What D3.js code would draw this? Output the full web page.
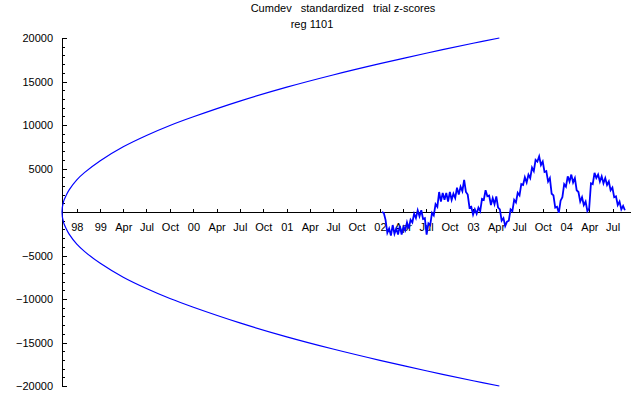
<!DOCTYPE html>
<html>
<head>
<meta charset="utf-8">
<script src="https://cdn.jsdelivr.net/npm/d3@7"></script>
<style>
  html, body { margin: 0; padding: 0; background: #fff; }
  svg { display: block; font-family: "Liberation Sans", Arial, sans-serif; }
  .title { font-size: 11px; }
  .axis text { font-size: 11px; fill: #000; }
  .axis path, .axis line { stroke: #000; shape-rendering: crispEdges; }
</style>
</head>
<body>
<div id="chart"></div>
<script>
// chart text
const titleLine1 = 'Cumdev\u00a0\u00a0 standardized\u00a0\u00a0 trial z-scores';
const titleLine2 = 'reg 1101';

// x axis: quarterly ticks and their labels
const xTickDates = ['1998-10-01',
  '1999-01-01', '1999-04-01', '1999-07-01', '1999-10-01',
  '2000-01-01', '2000-04-01', '2000-07-01', '2000-10-01',
  '2001-01-01', '2001-04-01', '2001-07-01', '2001-10-01',
  '2002-01-01', '2002-04-01', '2002-07-01', '2002-10-01',
  '2003-01-01', '2003-04-01', '2003-07-01', '2003-10-01',
  '2004-01-01', '2004-04-01', '2004-07-01'];
const xTickLabels = ['98',
  '99', 'Apr', 'Jul', 'Oct',
  '00', 'Apr', 'Jul', 'Oct',
  '01', 'Apr', 'Jul', 'Oct',
  '02', 'Apr', 'Jul', 'Oct',
  '03', 'Apr', 'Jul', 'Oct',
  '04', 'Apr', 'Jul'];
const xDomain = ['1998-08-04', '2004-09-07'];

// y axis
const yDomain = [-20000, 20000];
const yMajorTicks = [-20000, -15000, -10000, -5000, 0, 5000, 10000, 15000, 20000];
const yMinorStep = 1000;

// probability envelope (upper half; lower half is its mirror)
const envelopeDates = ['1998-08-04', '1998-08-10', '1998-08-20', '1998-09-01', '1998-10-01',
  '1998-11-01', '1999-01-01', '1999-04-01', '1999-07-01', '1999-10-01', '2000-01-01',
  '2000-07-01', '2001-01-01', '2001-07-01', '2002-01-01', '2002-07-01', '2003-01-01', '2003-04-14'];
const envelopeValues = [0, 1200, 1900, 2550, 3700,
  4550, 5900, 7500, 8800, 9950, 10950,
  12750, 14350, 15750, 17050, 18250, 19400, 20000];

// cumulative deviation, one reading per week from 2002-01-09
const cumdevStart = '2002-01-09';
const cumdevStepDays = 7;
const cumdevValues = [
  0, -100, -900, -2400, -1900, -2700, -1500, -2500, -1900, -2600,
  -1600, -2600, -1700, -2100, -1200, -1900, -900, -1200, -200, -700,
  200, -500, 200, -800, -700, -2600, -1300, -1500, -100, -400,
  900, 600, 2300, 1200, 2200, 1400, 2200, 1200, 2300, 1400,
  2100, 1600, 2800, 2000, 2900, 2400, 3700, 2300, 2000, 500,
  600, -300, 300, -200, 500, 100, 1500, 1400, 2500, 1800,
  1900, 800, 1600, 900, 1800, 500, 300, -1000, -700, -1600,
  -1100, -1000, 300, 100, 1400, 1100, 2200, 1900, 3200, 3100,
  4000, 3400, 4300, 3900, 5100, 4700, 6000, 5800, 6400, 5400,
  5800, 4600, 4700, 3500, 3900, 2100, 1900, 500, 600, -100,
  1300, 1700, 3200, 2900, 4100, 3500, 4300, 3400, 3900, 2500,
  2300, 1200, 1700, 800, 1200, 100, 400, 3300, 3200, 4500,
  3900, 4300, 3500, 4100, 3300, 3900, 3100, 3500, 2500, 2800,
  1700, 1800, 800, 1200, 300, 700, 200];

const width = 640;
const height = 395;
const plot = { left: 62, right: 630, top: 38, bottom: 386 };
const lineColor = '#0000ff';

const parse = d3.utcParse('%Y-%m-%d');

const svg = d3.select('#chart')
  .append('svg')
  .attr('width', width)
  .attr('height', height);

const x = d3.scaleUtc()
  .domain(xDomain.map(parse))
  .range([plot.left, plot.right]);

const y = d3.scaleLinear()
  .domain(yDomain)
  .range([plot.bottom, plot.top]);

// title
svg.append('text').attr('class', 'title')
  .attr('x', 343).attr('y', 12).attr('text-anchor', 'middle')
  .text(titleLine1);
svg.append('text').attr('class', 'title')
  .attr('x', 312).attr('y', 28).attr('text-anchor', 'middle')
  .text(titleLine2);

// y axis: minor ticks, then major ticks with labels
const minorTicks = d3.range(yDomain[0], yDomain[1] + 1, yMinorStep)
  .filter(v => !yMajorTicks.includes(v));
svg.append('g')
  .attr('class', 'axis')
  .attr('transform', `translate(${plot.left},0)`)
  .call(d3.axisLeft(y).tickValues(minorTicks).tickSizeInner(-3).tickSizeOuter(0).tickFormat(''))
  .call(g => g.select('.domain').remove());
svg.append('g')
  .attr('class', 'axis')
  .attr('transform', `translate(${plot.left},0)`)
  .call(d3.axisLeft(y)
    .tickValues(yMajorTicks)
    .tickSizeInner(-5)
    .tickSizeOuter(0)
    .tickPadding(9)
    .tickFormat(d => d === 0 ? '' : String(d).replace('-', '\u2212')));

// x axis on the zero line, ticks pointing up, labels below
svg.append('g')
  .attr('class', 'axis')
  .attr('transform', `translate(0,${Math.round(y(0))})`)
  .call(d3.axisBottom(x)
    .tickValues(xTickDates.map(parse))
    .tickSizeInner(-3)
    .tickSizeOuter(0)
    .tickPadding(11)
    .tickFormat((d, i) => xTickLabels[i]));

// envelope: lower half reversed, then upper half, as one smooth curve
const envPoints = envelopeDates.map((d, i) => [parse(d), -envelopeValues[i]]).reverse()
  .concat(envelopeDates.slice(1).map((d, i) => [parse(d), envelopeValues[i + 1]]));
const envLine = d3.line()
  .x(d => x(d[0]))
  .y(d => y(d[1]))
  .curve(d3.curveCatmullRom.alpha(0.5));
svg.append('path')
  .datum(envPoints)
  .attr('fill', 'none')
  .attr('stroke', lineColor)
  .attr('stroke-width', 1.2)
  .attr('d', envLine);

// cumulative deviation trace
const start = parse(cumdevStart);
const cumdev = cumdevValues.map((v, i) => [d3.utcDay.offset(start, i * cumdevStepDays), v]);
svg.append('path')
  .datum(cumdev)
  .attr('fill', 'none')
  .attr('stroke', lineColor)
  .attr('stroke-width', 1.8)
  .attr('d', d3.line().x(d => x(d[0])).y(d => y(d[1])));
</script>
</body>
</html>
